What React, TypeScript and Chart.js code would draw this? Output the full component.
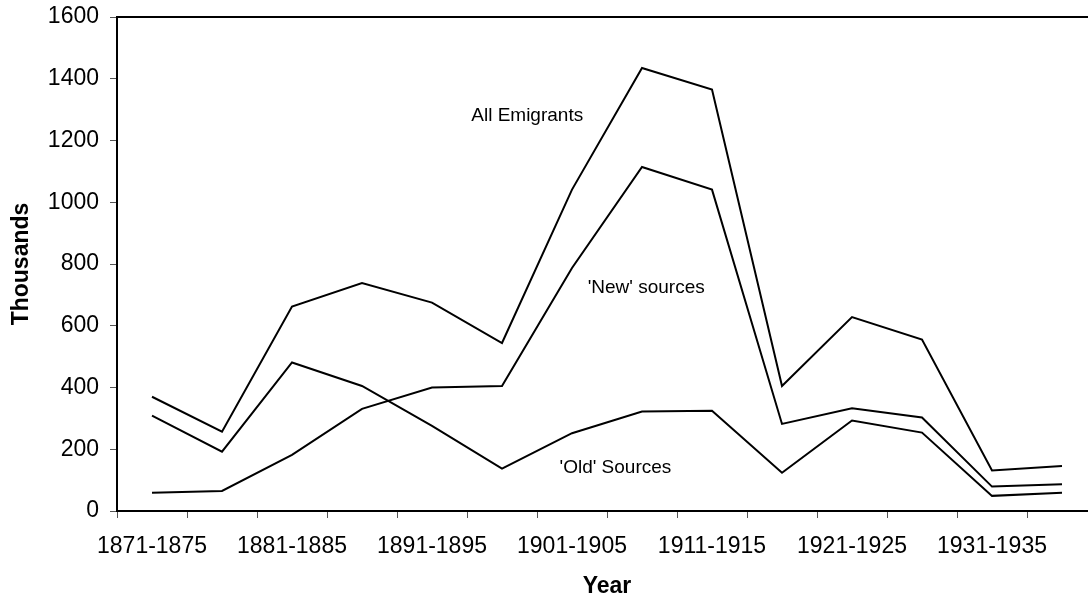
import React, { useEffect, useRef } from "react";
import { Chart, registerables } from "chart.js";

Chart.register(...registerables);

const categories = [
  "1871-1875", "1876-1880", "1881-1885", "1886-1890", "1891-1895", "1896-1900",
  "1901-1905", "1906-1910", "1911-1915", "1916-1920", "1921-1925", "1926-1930",
  "1931-1935", "1936-1940",
];
const allEmigrants = [370, 257, 662, 738, 675, 544, 1041, 1435, 1365, 405, 628, 555, 131, 146];
const newSources = [59, 65, 182, 331, 400, 405, 787, 1114, 1041, 282, 333, 303, 79, 87];
const oldSources = [309, 192, 481, 405, 276, 137, 252, 322, 325, 124, 293, 254, 49, 59];

const annotationTexts = ["All Emigrants", "'New' sources", "'Old' Sources"];
const annotationX = [5.36, 7.06, 6.62];
const annotationY = [1281, 723, 139];

const FONT = "'Liberation Sans', Arial, sans-serif";

const framePlugin = {
  id: "frameAndNotes",
  afterDraw(chart: any) {
    const { ctx, chartArea, scales } = chart;
    ctx.save();
    ctx.strokeStyle = "#000";
    ctx.lineWidth = 2;
    ctx.beginPath();
    ctx.moveTo(chartArea.left, chartArea.top);
    ctx.lineTo(chartArea.right, chartArea.top);
    ctx.stroke();
    ctx.fillStyle = "#000";
    ctx.font = `19px ${FONT}`;
    ctx.textAlign = "center";
    ctx.textBaseline = "middle";
    const xs = scales.x;
    const ys = scales.y;
    const step = xs.getPixelForValue(1) - xs.getPixelForValue(0);
    annotationTexts.forEach((t, i) => {
      const px = xs.getPixelForValue(0) + annotationX[i] * step;
      const py = ys.getPixelForValue(annotationY[i]);
      ctx.fillText(t, px, py);
    });
    ctx.restore();
  },
};

export default function App() {
  const ref = useRef<HTMLCanvasElement | null>(null);
  useEffect(() => {
    if (!ref.current) return;
    const lineDs = (label: string, data: number[]) => ({
      label,
      data,
      borderColor: "#000",
      borderWidth: 2,
      pointRadius: 0,
      tension: 0,
      fill: false,
    });
    const chart = new Chart(ref.current, {
      type: "line",
      data: {
        labels: categories,
        datasets: [
          lineDs("All Emigrants", allEmigrants),
          lineDs("'New' sources", newSources),
          lineDs("'Old' Sources", oldSources),
        ],
      },
      options: {
        animation: false,
        responsive: true,
        maintainAspectRatio: false,
        layout: { padding: { top: 17, left: 0, right: 0, bottom: 0 } },
        plugins: { legend: { display: false }, tooltip: { enabled: false } },
        scales: {
          x: {
            type: "category",
            offset: true,
            afterFit: (s: any) => {
              s.height = 90;
              s.paddingLeft = 0;
              s.paddingRight = 0;
            },
            grid: {
              offset: true,
              drawOnChartArea: false,
              drawTicks: true,
              tickLength: 7,
              color: "#555",
              lineWidth: 1,
            },
            border: { display: true, color: "#000", width: 2 },
            ticks: {
              autoSkip: false,
              maxRotation: 0,
              minRotation: 0,
              padding: 15,
              color: "#000",
              font: { family: FONT, size: 23 },
              callback: (_v: any, i: number) => (i % 2 === 0 ? categories[i] : ""),
            },
            title: {
              display: true,
              text: "Year",
              color: "#000",
              font: { family: FONT, size: 23, weight: "bold" },
              padding: { top: 0, bottom: 1 },
            },
          },
          y: {
            min: 0,
            max: 1600,
            afterFit: (s: any) => {
              s.width = 117;
              s.paddingTop = 0;
              s.paddingBottom = 0;
            },
            grid: {
              drawOnChartArea: false,
              drawTicks: true,
              tickLength: 7,
              color: "#555",
              lineWidth: 1,
            },
            border: { display: true, color: "#000", width: 2 },
            ticks: {
              stepSize: 200,
              padding: 11,
              color: "#000",
              font: { family: FONT, size: 23 },
              callback: (v: any) => String(v),
            },
            title: {
              display: true,
              text: "Thousands",
              color: "#000",
              font: { family: FONT, size: 23, weight: "bold" },
              padding: { top: 8, bottom: 0 },
            },
          },
        },
      },
      plugins: [framePlugin],
    });
    return () => chart.destroy();
  }, []);

  return (
    <div
      style={{
        position: "fixed",
        left: 0,
        top: 0,
        width: 1088,
        height: 601,
        overflow: "hidden",
        background: "#fff",
      }}
    >
      <div style={{ position: "relative", width: 1097, height: 601 }}>
        <canvas ref={ref} />
      </div>
    </div>
  );
}
